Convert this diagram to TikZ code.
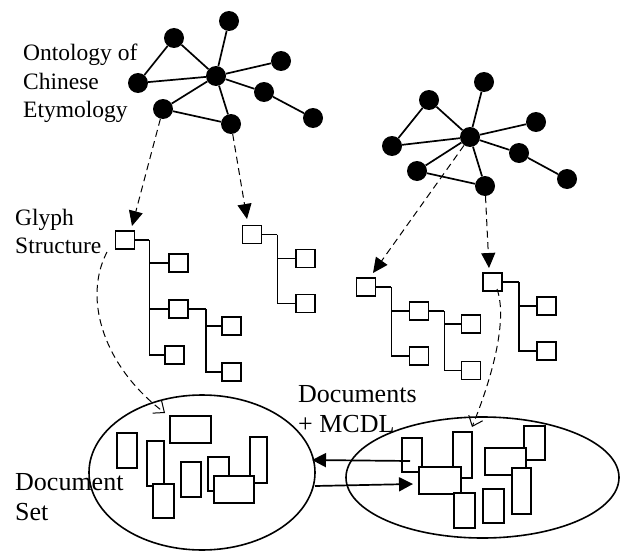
\documentclass[tikz,border=0pt]{standalone}
\usepackage{fontspec}
\setmainfont{Liberation Serif}
\usetikzlibrary{arrows.meta,shapes.geometric}
\begin{document}
\begin{tikzpicture}[x=1pt,y=-1pt,
 dot/.style={circle,fill=black,inner sep=0,minimum size=20pt},
 gedge/.style={line width=1.7pt},
 gbox/.style={draw,line width=1.6pt,minimum width=19pt,minimum height=18pt,inner sep=0},
 tline/.style={line width=1.6pt},
 dasharr/.style={dash pattern=on 7pt off 4.5pt,line width=1pt,-{Triangle[length=15pt,width=14pt]}},
 curvarr/.style={dash pattern=on 7pt off 4.5pt,line width=1pt,-{Straight Barb[length=9pt,width=15pt,line width=1pt]}},
 solarr/.style={line width=1.7pt,-{Triangle[length=14pt,width=14pt]}},
 docr/.style={draw,line width=1.6pt,fill=white},
 lbl/.style={inner sep=0,anchor=base west,font=\fontsize{23.5}{28}\selectfont},
 lblb/.style={inner sep=0,anchor=base west,font=\fontsize{26}{30}\selectfont},
 ell/.style={draw,ellipse,line width=1.6pt,inner sep=0}
]
\useasboundingbox (0,0) rectangle (621,551);

% labels
\node[lbl] (on1) at (23,60) {Ontology of};
\node[lbl] (on2) at (23,89) {Chinese};
\node[lbl] (on3) at (23,117) {Etymology};
\node[lbl] (gs1) at (15,225) {Glyph};
\node[lbl] (gs2) at (15,253) {Structure};
\node[lblb] (ds1) at (15,490) {Document};
\node[lblb] (ds2) at (15,520) {Set};
\node[lblb] (dm1) at (298,402) {Documents};
\node[lblb] (dm2) at (298,432) {+ MCDL};

% left ontology graph
\node[dot] (L1) at (229,21) {};
\node[dot] (L2) at (174,38) {};
\node[dot] (L3) at (281,61) {};
\node[dot] (L4) at (216,76) {};
\node[dot] (L5) at (138,83) {};
\node[dot] (L6) at (264,92) {};
\node[dot] (L7) at (313,118) {};
\node[dot] (L8) at (163,109) {};
\node[dot] (L9) at (231,124) {};
\foreach \a/\b in {L1/L4,L2/L4,L2/L5,L5/L4,L3/L4,L4/L6,L6/L7,L4/L8,L8/L9,L4/L9}
  \draw[gedge] (\a) -- (\b);

% right ontology graph
\node[dot] (R1) at (484,82) {};
\node[dot] (R2) at (429,100) {};
\node[dot] (R3) at (536,122) {};
\node[dot] (R4) at (470,137) {};
\node[dot] (R5) at (392,146) {};
\node[dot] (R6) at (519,153) {};
\node[dot] (R7) at (567,179) {};
\node[dot] (R8) at (417,171) {};
\node[dot] (R9) at (485,186) {};
\foreach \a/\b in {R1/R4,R2/R4,R2/R5,R5/R4,R3/R4,R4/R6,R6/R7,R4/R8,R8/R9,R4/R9}
  \draw[gedge] (\a) -- (\b);

% glyph tree 1
\node[gbox] (A0) at (125,240) {};
\node[gbox] (A1) at (178.5,263) {};
\node[gbox] (A2) at (178.5,309) {};
\node[gbox] (A3) at (174.5,355) {};
\node[gbox] (A21) at (231.5,326) {};
\node[gbox] (A22) at (231.5,372) {};
\draw[tline] (A0.east) -- ++(14,0) coordinate (ab);
\draw[tline] (ab) |- (A1.west);
\draw[tline] (ab) |- (A2.west);
\draw[tline] (ab) |- (A3.west);
\draw[tline] (A2.east) -- ++(17,0) coordinate (ab2);
\draw[tline] (ab2) |- (A21.west);
\draw[tline] (ab2) |- (A22.west);

% glyph tree 2
\node[gbox] (B0) at (252,234.5) {};
\node[gbox] (B1) at (305.5,258.5) {};
\node[gbox] (B2) at (305.5,303.5) {};
\draw[tline] (B0.east) -- ++(15,0) coordinate (bb);
\draw[tline] (bb) |- (B1.west);
\draw[tline] (bb) |- (B2.west);

% glyph tree 3
\node[gbox] (C0) at (366,287) {};
\node[gbox] (C1) at (419,311) {};
\node[gbox] (C2) at (419,356) {};
\node[gbox] (C11) at (471,324) {};
\node[gbox] (C12) at (471,370.5) {};
\draw[tline] (C0.east) -- ++(15,0) coordinate (cb);
\draw[tline] (cb) |- (C1.west);
\draw[tline] (cb) |- (C2.west);
\draw[tline] (C1.east) -- ++(15,0) coordinate (cb1);
\draw[tline] (cb1) |- (C11.west);
\draw[tline] (cb1) |- (C12.west);

% glyph tree 4
\node[gbox] (D0) at (492.5,282) {};
\node[gbox] (D1) at (546.5,306) {};
\node[gbox] (D2) at (546.5,351) {};
\draw[tline] (D0.east) -- ++(16,0) coordinate (db);
\draw[tline] (db) |- (D1.west);
\draw[tline] (db) |- (D2.west);

% document sets
\node[ell,minimum width=226pt,minimum height=155pt] (E1) at (202,472.5) {};
\node[ell,minimum width=273pt,minimum height=121pt] (E2) at (482.5,477.5) {};

% documents in left set
\draw[docr] (117,433) rectangle (137,468);
\draw[docr] (147,441) rectangle (164,486);
\draw[docr] (153,484) rectangle (174,518);
\draw[docr] (170,416) rectangle (211,443);
\draw[docr] (181,462) rectangle (201,497);
\draw[docr] (208,457) rectangle (229,491);
\draw[docr] (250,437) rectangle (267,483);
\draw[docr] (214,476) rectangle (254,503);

% documents in right set
\draw[docr] (402,438) rectangle (422,472);
\draw[docr] (453,432) rectangle (472,478);
\draw[docr] (419,467) rectangle (461,494);
\draw[docr] (454,493) rectangle (475,528);
\draw[docr] (524,426) rectangle (545,460);
\draw[docr] (485,448) rectangle (526,475);
\draw[docr] (512,468) rectangle (531,514);
\draw[docr] (483,489) rectangle (504,523);

% dashed arrows from ontologies to glyph structures
\coordinate (t1) at (132,226);
\coordinate (t2) at (247,219);
\coordinate (t3) at (373,273);
\coordinate (t4) at (489,268);
\draw[dasharr] (L8) -- (t1);
\draw[dasharr] (L9) -- (t2);
\draw[dasharr] (R4) -- (t3);
\draw[dasharr] (R9) -- (t4);

% curved dashed arrows into document sets
\coordinate (c1s) at (107,252);
\coordinate (c1e) at (165,413);
\coordinate (c2s) at (497,289);
\coordinate (c2e) at (472,427);
\draw[curvarr] (c1s) .. controls (82,300) and (105,368) .. (c1e);
\draw[curvarr] (c2s) .. controls (508,320) and (492,378) .. (c2e);

% exchange arrows between document sets
\coordinate (x1s) at (410,461);
\coordinate (x1e) at (312,460);
\coordinate (x2s) at (315,486);
\coordinate (x2e) at (413,484);
\draw[solarr] (x1s) -- (x1e);
\draw[solarr] (x2s) -- (x2e);
\end{tikzpicture}
\end{document}
